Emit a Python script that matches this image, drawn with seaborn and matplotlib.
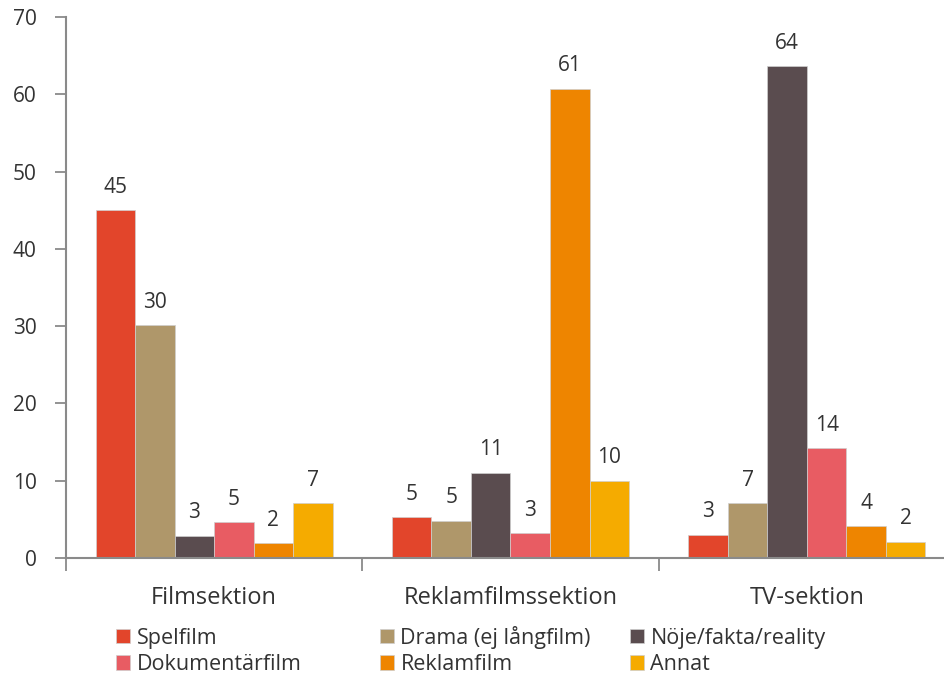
import numpy as np
import pandas as pd
import matplotlib
matplotlib.use("Agg")
import matplotlib.pyplot as plt
from matplotlib.patches import Patch
from matplotlib.ticker import FixedLocator
import seaborn as sns

# data
sections = ["Filmsektion", "Reklamfilmssektion", "TV-sektion"]
genres = ["Spelfilm", "Drama (ej långfilm)", "Nöje/fakta/reality",
          "Dokumentärfilm", "Reklamfilm", "Annat"]
spelfilm = [45.0, 5.3, 3.0]
drama = [30.1, 4.8, 7.1]
noje = [2.85, 11.0, 63.6]
dokumentar = [4.6, 3.2, 14.2]
reklamfilm = [1.9, 60.7, 4.1]
annat = [7.1, 10.0, 2.1]
colors = ["#E2452B", "#AF976A", "#5A4C4F", "#E85C63", "#EE8500", "#F5AB00"]

series = [spelfilm, drama, noje, dokumentar, reklamfilm, annat]
rows = []
for genre, vals in zip(genres, series):
    for sec, v in zip(sections, vals):
        rows.append({"sektion": sec, "genre": genre, "andel": v})
df = pd.DataFrame(rows)

sns.set_theme(style="white")
plt.rcParams["font.family"] = ["Open Sans", "DejaVu Sans"]

W, H = 944, 676
fig = plt.figure(figsize=(W / 100, H / 100), dpi=100)
ax = fig.add_axes([66 / W, 118 / H, 1 - 66 / W, (558 - 17) / H])

sns.barplot(data=df, x="sektion", y="andel", hue="genre",
            order=sections, hue_order=genres, palette=colors,
            saturation=1, width=0.8, edgecolor="#cfcfcf", linewidth=0.5,
            legend=False, ax=ax)

for cont in ax.containers:
    ax.bar_label(cont, fmt="%.0f", padding=9, fontsize=15, color="#333333")

ax.set_ylim(0, 70)
ax.set_xlim(-0.5, 2.5 - 11 / 297)
ax.set_yticks(range(0, 71, 10))
ax.set_xticks([0, 1, 2])
ax.set_xticklabels(sections)
ax.xaxis.set_minor_locator(FixedLocator([-0.5, 0.5, 1.5]))
ax.set_xlabel("")
ax.set_ylabel("")

grey = "#8a8a8a"
ax.tick_params(axis="y", left=True, length=8, width=1.3, color=grey,
               pad=13, labelsize=15, labelcolor="#333333")
ax.tick_params(axis="x", which="major", bottom=True, length=0, pad=20,
               labelsize=17, labelcolor="#333333")
ax.tick_params(axis="x", which="minor", bottom=True, length=9, width=1.3,
               color=grey)

sns.despine(ax=ax)
for side in ["left", "bottom"]:
    ax.spines[side].set_color(grey)
    ax.spines[side].set_linewidth(1.5)

# legend: three columns, two rows
xs = [116, 380, 630]
legs = []
for col in range(3):
    idx = [col, col + 3]
    handles = [Patch(facecolor=colors[i], edgecolor="#cfcfcf", linewidth=0.5) for i in idx]
    leg = fig.legend(handles, [genres[i] for i in idx], loc="upper left",
                     bbox_to_anchor=(xs[col] / W, (H - 625) / H),
                     frameon=False, fontsize=15.5, handlelength=0.65, handleheight=0.65,
                     handletextpad=0.3, labelspacing=0.25, borderpad=0,
                     borderaxespad=0, labelcolor="#333333")
    legs.append(leg)

# line the three legend columns up on their first marker
fig.canvas.draw()
r = fig.canvas.get_renderer()
for col, leg in enumerate(legs):
    bb = leg.get_patches()[0].get_window_extent(r)
    shift = (H - bb.y1) - 629
    leg.set_bbox_to_anchor((xs[col] / W, (H - 625 + shift) / H), transform=fig.transFigure)

fig.savefig("out.png", dpi=100, facecolor="white")
